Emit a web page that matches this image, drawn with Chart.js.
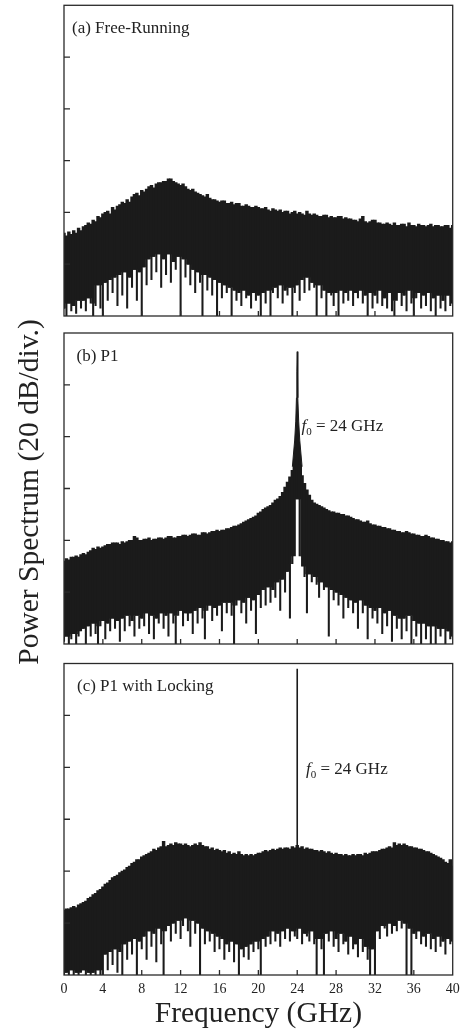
<!DOCTYPE html>
<html>
<head>
<meta charset="utf-8">
<script src="https://cdn.jsdelivr.net/npm/chart.js@4/dist/chart.umd.min.js"></script>
<style>
  html, body { margin: 0; padding: 0; background: #fff; }
  #wrap { position: relative; width: 462px; height: 1034px; background: #fff; overflow: hidden;
          font-family: "Liberation Serif", "Times New Roman", serif; color: #222; }
  .panel { position: absolute; left: 0; width: 462px; }
  .lbl { position: absolute; font-size: 17px; line-height: 17px; white-space: nowrap; }
  .lbl sub { font-size: 11px; line-height: 0; vertical-align: -4px; }
  #ytitle { position: absolute; width: 400px; height: 30px; line-height: 30px; left: -172px; top: 476.5px;
            font-size: 29.5px; text-align: center; white-space: nowrap; transform: rotate(-90deg); }
</style>
</head>
<body>
<div id="wrap">
  <div class="panel" style="top:0;height:320px"><canvas id="chartA"></canvas></div>
  <div class="panel" style="top:328px;height:320px"><canvas id="chartB"></canvas></div>
  <div class="panel" style="top:655px;height:379px;width:480px"><canvas id="chartC"></canvas></div>

  <div class="lbl" style="left:72px;top:19px">(a) Free-Running</div>
  <div class="lbl" style="left:76.5px;top:346.5px">(b) P1</div>
  <div class="lbl" style="left:77px;top:676.5px">(c) P1 with Locking</div>
  <div class="lbl" style="left:301.5px;top:416.5px"><i>f</i><sub>0</sub> = 24 GHz</div>
  <div class="lbl" style="left:306px;top:759.8px"><i>f</i><sub>0</sub> = 24 GHz</div>
  <div id="ytitle">Power Spectrum (20 dB/div.)</div>
</div>

<script>
// analyser bins are 0.25 GHz wide, 0 .. 40 GHz (161 bins)
const freqStep = 0.25;
const freqTicks = [0, 4, 8, 12, 16, 20, 24, 28, 32, 36, 40];
const levelTicks = [0, 20, 40, 60, 80, 100, 120];   // 20 dB per division

// (a) free-running: max / min of the trace in each bin (dB above frame bottom)
const hiA = [
  32, 31, 32.5, 31.5, 33, 32, 34, 33,
  34.5, 35, 36, 35.5, 37, 36.5, 38.5, 38,
  39.5, 40, 40.5, 39.5, 42, 41, 42.5, 43,
  44, 43.5, 45, 44, 46, 47, 47.5, 46.5,
  48.5, 48, 49, 50, 50.5, 49.5, 51, 51.5,
  51.5, 52, 52, 53, 53, 52, 51.5, 51,
  50.5, 51, 50, 49, 48.5, 49, 48, 47.5,
  47, 46.5, 46, 47, 45.5, 45, 45, 44.5,
  44, 44.5, 44.5, 43.5, 43.5, 44, 43, 43.5,
  43.5, 42.5, 42.5, 43, 42.5, 42, 42, 42.5,
  42, 41.5, 41.5, 42, 41, 40.5, 41.5, 41,
  40.5, 41, 40, 40.5, 40.5, 39.5, 40, 40.5,
  39.5, 40, 39.5, 39, 40.5, 39.5, 39, 39.5,
  39, 38.5, 38.5, 39, 39, 38, 38.5, 38,
  38, 38.5, 38.5, 37.5, 38, 37.5, 37.5, 37,
  37, 36.5, 37.5, 38.5, 36.5, 36, 36.5, 37,
  37, 36, 36, 35.5, 35.5, 36, 35.5, 35,
  36, 35, 35, 35.5, 35.5, 34.5, 36, 35,
  35, 34.5, 35.5, 35, 35, 34.5, 35, 35.5,
  34.5, 35, 35, 34.5, 34.5, 35, 35, 34,
  35
];
const loA = [
  3, 0, 5, 2,   4, 1, 6, 3,   6, 2, 7, 5,   0, 4, 12, 3,
  0, 13, 6, 14,   9, 15, 4, 16,   8, 17, 3, 15,   11, 18, 6, 17,
  0, 19, 12, 22,   14, 23, 17, 24,   11, 22, 16, 24,   13, 21, 18, 23,
  0, 22, 15, 20,   12, 18, 9, 17,   13, 0, 16, 10,   15, 8, 14, 0,
  13, 7, 12, 9,   11, 0, 10, 6,   9, 4, 10, 7,   8, 3, 9, 6,
  8, 0, 9, 5,   10, 0, 9, 11,   7, 12, 5, 10,   8, 11, 0, 9,
  12, 6, 14, 9,   15, 10, 13, 11,   0, 12, 7, 10,   0, 9, 8, 4,
  9, 0, 10, 5,   9, 6, 10, 4,   9, 7, 10, 5,   8, 0, 9, 3,
  8, 5, 10, 4,   7, 3, 9, 2,   0, 6, 9, 4,   8, 2, 10, 5,
  0, 7, 9, 3,   8, 4, 9, 2,   7, 0, 8, 3,   6, 2, 8, 4,
  5
];

// (b) P1
const hiB = [
  32, 33, 32.5, 33.5, 33.5, 34, 33.5, 34.5,
  35, 34.5, 35.5, 36, 37, 36.5, 37.5, 37,
  37.5, 38, 38.5, 38.5, 39, 39, 39, 38.5,
  39.5, 39, 39.5, 40, 40, 41.5, 41, 40,
  40, 40.5, 40.5, 41, 40, 40.5, 40.5, 41,
  41, 40.5, 41, 41.5, 41.5, 41, 41, 41.5,
  41.5, 42, 42, 41.5, 42, 42.5, 42.5, 42,
  42, 43, 43, 42.5, 43, 43.5, 43.5, 44,
  43.5, 44, 44, 44.5, 44.5, 45, 45.5, 45.5,
  46, 46.5, 47, 47.5, 48, 48.5, 49, 49.5,
  50.5, 51, 52, 52.5, 53, 53.5, 54.5, 55.5,
  56, 57, 58.5, 60.5, 62.5, 64.5, 67, 71,
  72, 69, 65, 62, 59.5, 57.5, 55.5, 54.5,
  54, 53.5, 53, 52.5, 52, 51.5, 51, 51,
  50.5, 50.5, 50, 50, 49.5, 49.5, 49, 48.5,
  48, 48, 47.5, 47, 47, 47.5, 46.5, 46,
  46, 45.5, 45.5, 45, 45, 44.5, 44.5, 44,
  44, 43.5, 43.5, 43, 43, 43.5, 43, 42.5,
  42.5, 42, 42, 41.5, 41.5, 42, 41.5, 41,
  41, 40.5, 40.5, 40, 40, 39.5, 39.5, 39,
  39.5
];
const loB = [
  1, 3, 0, 2,   4, 0, 3, 5,   6, 0, 7, 3,   8, 4, 0, 7,
  9, 2, 8, 5,   10, 6, 9, 1,   10, 5, 11, 7,   9, 3, 11, 6,
  10, 7, 12, 4,   11, 2, 10, 8,   12, 6, 11, 3,   12, 8, 0, 11,
  13, 7, 12, 9,   12, 4, 13, 8,   14, 10, 2, 13,   15, 9, 14, 11,
  15, 5, 16, 12,   16, 11, 0, 15,   17, 12, 16, 8,   18, 13, 17, 4,
  19, 14, 21, 15,   22, 16, 21, 18,   24, 13, 25, 20,   28, 10, 31, 34,
  56, 34, 30, 26,   12, 27, 24, 26,   23, 18, 24, 21,   22, 3, 21, 17,
  20, 15, 19, 10,   18, 14, 17, 12,   16, 6, 17, 12,   15, 2, 14, 10,
  13, 8, 14, 4,   12, 7, 13, 1,   11, 6, 10, 2,   10, 5, 11, 0,
  9, 3, 8, 0,   8, 2, 7, 0,   7, 0, 6, 3,   6, 0, 5, 2,
  3
];
// narrow core of the 24 GHz line in (b), filled down to the white notch top
const peakB = [
  {x: 23.5, y: 68.4}, {x: 23.74, y: 78.7}, {x: 23.85, y: 86}, {x: 23.92, y: 95},
  {x: 23.96, y: 105}, {x: 24, y: 112.8}, {x: 24.04, y: 105}, {x: 24.08, y: 95},
  {x: 24.15, y: 86}, {x: 24.26, y: 78.7}, {x: 24.5, y: 68.4}
];
const peakBaseB = 56;

// (c) P1 with locking
const hiC = [
  25, 25.5, 25.5, 26, 26.5, 26, 27, 27.5,
  28, 28.5, 29.5, 30, 31, 31.5, 32.5, 33,
  34, 35, 35.5, 36.5, 37.5, 38, 38.5, 39.5,
  40, 40.5, 41.5, 42, 43, 43.5, 44.5, 44.5,
  45.5, 46, 46.5, 47, 47.5, 48.5, 48, 49,
  49.5, 51.5, 49.5, 50, 50.5, 50, 51, 50.5,
  50.5, 50, 50.5, 50, 49.5, 50, 50.5, 50,
  51, 50, 49.5, 49.5, 48.5, 49, 48, 48.5,
  48, 47.5, 48, 47, 47.5, 46.5, 47, 46.5,
  47.5, 46.5, 46, 46.5, 46, 46.5, 46, 46.5,
  47, 47, 47.5, 48, 47.5, 48, 48.5, 48,
  48.5, 49, 48.5, 49, 49, 48.5, 49.5, 49,
  50, 49, 49.5, 48.5, 49, 48.5, 48.5, 48,
  48, 47.5, 48, 47.5, 47, 47.5, 47, 46.5,
  47, 46.5, 46.5, 46, 46.5, 46, 46, 46.5,
  46, 46.5, 46.5, 46, 47, 46.5, 47, 47.5,
  47.5, 47.5, 48, 48.5, 48.5, 49, 49.5, 49,
  51, 50, 50.5, 50, 50.5, 50, 49.5, 49.5,
  49, 49, 48.5, 48.5, 48, 47.5, 47.5, 47,
  46.5, 46, 45.5, 45, 44.5, 43.5, 43, 44.5,
  42
];
const loC = [
  0, 1, 0, 2,   0, 1, 0, 1,   2, 0, 1, 0,   1, 0, 2, 0,
  0, 8, 2, 9,   4, 10, 1, 9,   0, 12, 6, 13,   8, 14, 0, 13,
  10, 15, 6, 17,   11, 16, 5, 18,   12, 0, 17, 19,   13, 20, 16, 21,
  14, 19, 22, 17,   11, 21, 16, 20,   0, 18, 12, 17,   13, 16, 9, 15,
  10, 14, 6, 12,   9, 13, 5, 12,   0, 10, 7, 11,   6, 12, 9, 13,
  10, 0, 14, 11,   15, 12, 17, 13,   16, 11, 17, 14,   18, 13, 17, 15,
  14, 18, 12, 16,   15, 13, 17, 12,   0, 14, 10, 0,   16, 13, 17, 11,
  14, 9, 16, 12,   13, 8, 15, 10,   12, 7, 14, 9,   11, 6, 0, 10,
  0, 17, 14, 19,   18, 15, 20, 16,   19, 17, 21, 18,   20, 0, 18, 0,
  16, 14, 17, 12,   15, 11, 16, 10,   14, 9, 15, 11,   13, 8, 14, 12,
  13
];
// injection-locked line in (c)
const peakC = [{x: 24, y: 49}, {x: 24, y: 118}];

const ink = '#1b1b1b';
const serif = '"Liberation Serif", "Times New Roman", serif';

// frame with inward tick marks, as in the original plot
const framePlugin = {
    id: 'frame',
    afterDatasetsDraw(chart) {
        const { ctx, chartArea: a, scales: { x, y } } = chart;
        ctx.save();
        ctx.strokeStyle = '#2a2a2a';
        ctx.lineWidth = 1.3;
        ctx.beginPath();
        freqTicks.slice(1, -1).forEach(f => {
            const px = x.getPixelForValue(f);
            ctx.moveTo(px, a.bottom);
            ctx.lineTo(px, a.bottom - 5);
        });
        levelTicks.slice(1, -1).forEach(v => {
            const py = y.getPixelForValue(v);
            ctx.moveTo(a.left, py);
            ctx.lineTo(a.left + 6, py);
        });
        ctx.stroke();
        ctx.strokeRect(a.left, a.top, a.right - a.left, a.bottom - a.top);
        ctx.restore();
    }
};

function makePanel(id, hi, lo, extra, padding, withAxis) {
    // dense part of the trace: from the highest nearby minimum up to the bin maximum (full bin width);
    // the dips below it are drawn as thin lines, like the single sweeps of the analyser
    const body = [], dips = [];
    lo.forEach((v, i) => {
        const floor = Math.max(v, lo[i - 1] ?? v, lo[i + 1] ?? v);
        body.push({ x: i * freqStep, y: [floor, hi[i]] });
        dips.push({ x: i * freqStep, y: [v, floor] });
    });
    const datasets = [{
        type: 'bar', data: body, backgroundColor: ink, borderWidth: 0,
        barThickness: 2.8, grouped: false, clip: 0
    }, {
        type: 'bar', data: dips, backgroundColor: ink, borderWidth: 0,
        barThickness: 1.4, grouped: false, clip: 0
    }].concat(extra);

    const xAxis = withAxis ? {
        type: 'linear', min: 0, max: 40, offset: false,
        grid: { display: false, drawTicks: false, offset: false },
        border: { display: false },
        ticks: { stepSize: 4, autoSkip: false, maxRotation: 0, padding: 6, color: '#222',
                 font: { family: serif, size: 14 } },
        title: { display: true, text: 'Frequency (GHz)', color: '#222', padding: { top: 0, bottom: 0 },
                 font: { family: serif, size: 29.5 } },
        // fixed axis band so the plot frame lands where the original one is
        afterFit: scale => { scale.height = 57.2; }
    } : { type: 'linear', min: 0, max: 40, offset: false, grid: { offset: false },
          display: false, ticks: { stepSize: 4 } };

    return new Chart(document.getElementById(id), {
        type: 'bar',
        data: { datasets },
        options: {
            responsive: true,
            maintainAspectRatio: false,
            animation: false,
            events: [],
            layout: { padding },
            plugins: { legend: { display: false }, tooltip: { enabled: false } },
            scales: {
                x: xAxis,
                y: { min: 0, max: 120, display: false, ticks: { stepSize: 20 } }
            }
        },
        plugins: [framePlugin]
    });
}

makePanel('chartA', hiA, loA, [], { left: 64, right: 9.3, top: 5.3, bottom: 4 }, false);

makePanel('chartB', hiB, loB, [{
    type: 'line',
    data: peakB,
    borderColor: ink,
    backgroundColor: ink,
    borderWidth: 1,
    pointRadius: 0,
    fill: { value: peakBaseB },
    clip: 0
}], { left: 64, right: 9.3, top: 5, bottom: 4 }, false);

// panel (c) canvas is wider than the page so the "40" label does not squeeze the plot
makePanel('chartC', hiC, loC, [{
    type: 'line',
    data: peakC,
    borderColor: ink,
    borderWidth: 1.6,
    pointRadius: 0,
    fill: false,
    clip: 0
}], { left: 64, right: 27.3, top: 8.5, bottom: 1.8 }, true);
</script>
</body>
</html>
